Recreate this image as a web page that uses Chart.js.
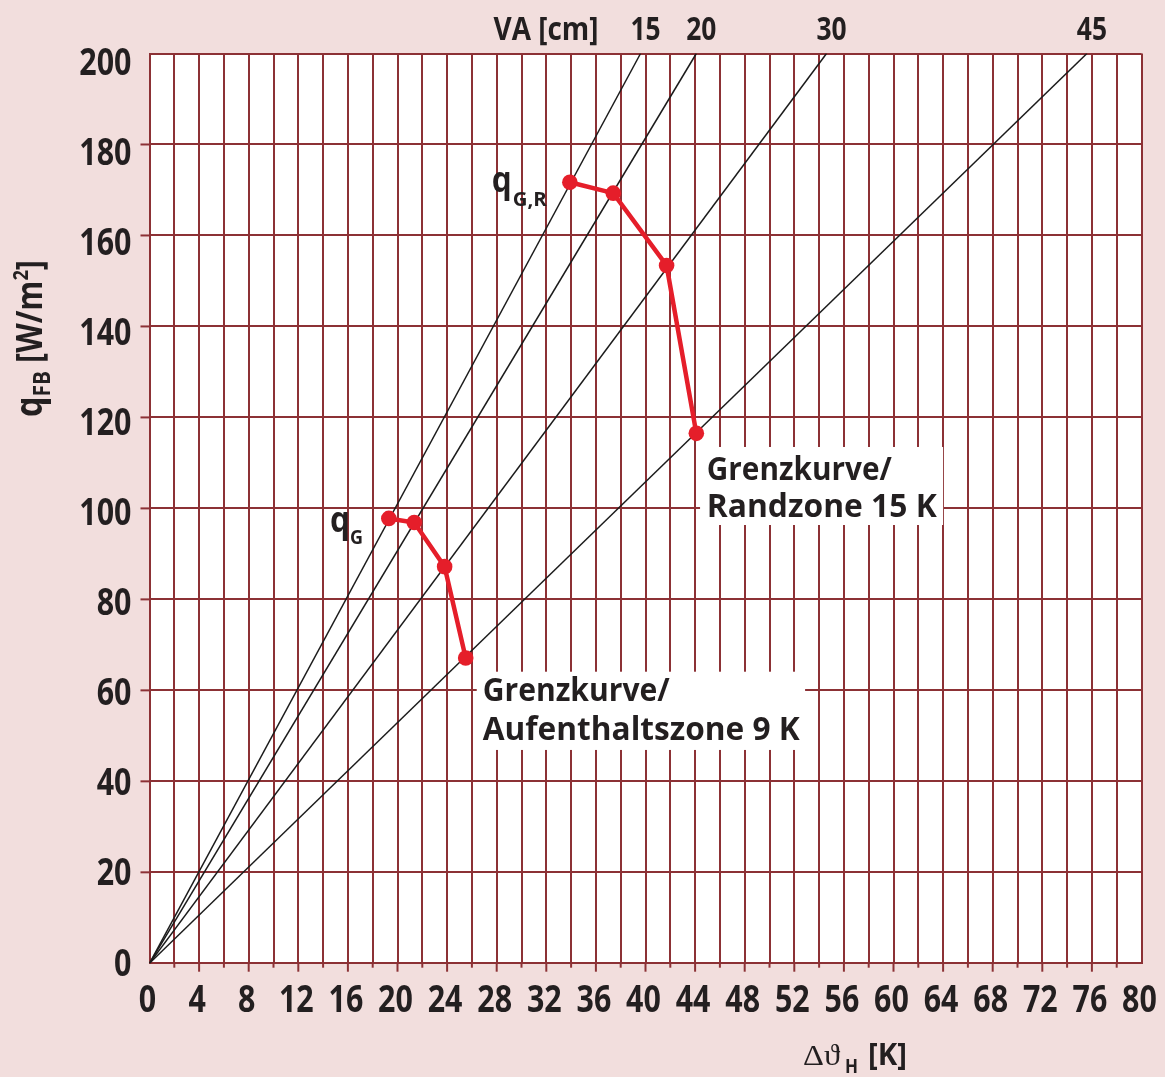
<!DOCTYPE html>
<html>
<head>
<meta charset="utf-8">
<script src="https://cdn.jsdelivr.net/npm/chart.js@4.4.1/dist/chart.umd.min.js"></script>
<style>
  html, body { margin:0; padding:0; background:#F2DEDD; }
  canvas { display:block; }
</style>
</head>
<body>
<canvas id="c" width="1165" height="1077"></canvas>
<script>
// ---------- data ----------
const xTickLabels = ['0','4','8','12','16','20','24','28','32','36','40','44','48','52','56','60','64','68','72','76','80'];
const yTickLabels = ['0','20','40','60','80','100','120','140','160','180','200'];
// VA lines (cm) run from origin to the top edge (q = 200) at these Δϑ values
const vaLabels = ['15','20','30','45'];
const vaTopX   = [39.6, 44.1, 54.6, 75.6];
const vaTopY   = [200, 200, 200, 200];
// q_G,R (Grenzkurve Randzone 15 K)
const qGR_x = [33.9, 37.4, 41.7, 44.1];
const qGR_y = [171.7, 169.3, 153.4, 116.5];
// q_G (Grenzkurve Aufenthaltszone 9 K)
const qG_x = [19.3, 21.35, 23.8, 25.5];
const qG_y = [97.8, 96.9, 87.2, 67.1];

// ---------- styles ----------
const GRID = '#8C3135';
const RED = '#E51E2A';
const TXT = '#231F20';
const HUM = "'Open Sans', 'Noto Sans', sans-serif";
const SERIF = "'Liberation Serif', 'DejaVu Serif', serif";
const COND = 0.8; // horizontal compression for the condensed-looking numerals

function pts(xs, ys){ return xs.map((x,i)=>({x, y:ys[i]})); }

// draw a run of text parts [{t, font, dy}] starting at (x,y) baseline, scaled to width w (optional)
function drawRun(ctx, parts, x, y, w){
  let total = 0;
  parts.forEach(p=>{ ctx.font = p.font; p.w = ctx.measureText(p.t).width; total += p.w; });
  const s = w ? w/total : 1;
  ctx.save();
  ctx.translate(x, y);
  ctx.scale(s, 1);
  let cx = 0;
  parts.forEach(p=>{ ctx.font = p.font; ctx.fillText(p.t, cx, p.dy||0); cx += p.w; });
  ctx.restore();
}
// condensed text with alignment: align 'left' | 'center' | 'right'
function drawCond(ctx, text, x, y, font, align){
  ctx.font = font;
  const w = ctx.measureText(text).width * COND;
  let lx = x;
  if (align === 'center') lx = x - w/2;
  else if (align === 'right') lx = x - w;
  ctx.save();
  ctx.textAlign = 'left';
  ctx.translate(lx, y);
  ctx.scale(COND, 1);
  ctx.fillText(text, 0, 0);
  ctx.restore();
}

const bgPlugin = {
  id:'bg',
  beforeDraw(chart){
    const {ctx, chartArea:a} = chart;
    ctx.save();
    ctx.fillStyle = '#F2DEDD';
    ctx.fillRect(0,0,chart.width,chart.height);
    ctx.fillStyle = '#FFFFFF';
    ctx.fillRect(a.left, a.top, a.right-a.left, a.bottom-a.top);
    ctx.restore();
  }
};

const decoPlugin = {
  id:'deco',
  afterDraw(chart){
    const {ctx, chartArea:a, scales:{x:xs, y:ys}} = chart;
    ctx.save();
    // tick marks
    ctx.strokeStyle = GRID; ctx.lineWidth = 2;
    xs.ticks.forEach(t=>{
      const v = t.value; if (v===0 || v===80) return;
      const px = xs.getPixelForValue(v);
      const len = xTickLabels.includes(String(v)) ? 8.4 : 4.4;
      ctx.beginPath(); ctx.moveTo(px, a.bottom); ctx.lineTo(px, a.bottom+len); ctx.stroke();
    });
    ys.ticks.forEach(t=>{
      const v = t.value; if (v===0 || v===200) return;
      const py = ys.getPixelForValue(v);
      ctx.beginPath(); ctx.moveTo(a.left-9, py); ctx.lineTo(a.left, py); ctx.stroke();
    });

    ctx.fillStyle = TXT;
    ctx.textBaseline = 'alphabetic';
    ctx.textAlign = 'left';

    // tick labels (values from the library's scales)
    const tickFont = `bold 38px ${HUM}`;
    ys.ticks.forEach(t=>{
      const s = String(t.value); if (!yTickLabels.includes(s)) return;
      const py = ys.getPixelForValue(t.value) + (-1.5 + 9*(t.value/200));
      drawCond(ctx, s, a.left - 18, py + 13.7, tickFont, 'right');
    });
    xs.ticks.forEach(t=>{
      const s = String(t.value); if (!xTickLabels.includes(s)) return;
      drawCond(ctx, s, xs.getPixelForValue(t.value) - 2, a.bottom + 48.4, tickFont, 'center');
    });

    // annotation boxes
    const box = (x0,y0,x1,y1)=>{
      const l = xs.getPixelForValue(x0), t = ys.getPixelForValue(y0);
      const r = xs.getPixelForValue(x1), b = ys.getPixelForValue(y1);
      ctx.fillStyle = '#FFFFFF'; ctx.fillRect(l,t,r-l,b-t); ctx.fillStyle = TXT;
      return {l,t};
    };
    const b1 = box(44.4, 113.5, 64.0, 96.35);
    drawRun(ctx, [{t:'Grenzkurve/', font:`bold 33px ${HUM}`}], b1.l+6.7, b1.t+33, 185);
    drawRun(ctx, [{t:'Randzone 15 K', font:`bold 33px ${HUM}`}], b1.l+6.7, b1.t+70.3, 230);
    const b2 = box(26.39, 64.1, 52.87, 46.9);
    drawRun(ctx, [{t:'Grenzkurve/', font:`bold 33px ${HUM}`}], b2.l+6, b2.t+29.5, 187);
    drawRun(ctx, [{t:'Aufenthaltszone 9 K', font:`bold 33px ${HUM}`}], b2.l+6, b2.t+68.3, 317);

    // q labels
    let px = xs.getPixelForValue(27.6), py = ys.getPixelForValue(169.6);
    drawRun(ctx, [{t:'q', font:`bold 36px ${HUM}`}], px, py, 20);
    drawRun(ctx, [{t:'G,R', font:`bold 20px ${HUM}`}], px+21, py+14, 34);
    px = xs.getPixelForValue(14.56); py = ys.getPixelForValue(94.8);
    drawRun(ctx, [{t:'q', font:`bold 36px ${HUM}`}], px, py, 20);
    drawRun(ctx, [{t:'G', font:`bold 20px ${HUM}`}], px+20, py+12, 13);

    // VA labels at the top
    const vaFont = `bold 33px ${HUM}`;
    const topPx = ys.getPixelForValue(200);
    vaLabels.forEach((l,i)=>{
      drawCond(ctx, l, xs.getPixelForValue(vaTopX[i]) + 5, ys.getPixelForValue(vaTopY[i]) - 13.5, vaFont, 'center');
    });
    drawRun(ctx, [{t:'VA [cm]', font:vaFont}], xs.getPixelForValue(vaTopX[0]) - 147, topPx - 13.5, 105);

    // x axis title
    drawRun(ctx, [{t:'\u0394\u03D1', font:`30px ${SERIF}`}], 803, 1065, 37);
    drawRun(ctx, [{t:'H', font:`bold 20px ${HUM}`}], 845, 1073, 13);
    drawRun(ctx, [{t:'[K]', font:`bold 30px ${HUM}`}], 868, 1065, 39);

    // y axis title (rotated)
    ctx.save();
    ctx.translate(42, 417);
    ctx.rotate(-Math.PI/2);
    drawRun(ctx, [
      {t:'q', font:`bold 37px ${HUM}`},
      {t:'FB', font:`bold 24px ${HUM}`, dy:8},
      {t:' [W/m', font:`bold 35px ${HUM}`},
      {t:'2', font:`bold 21px ${HUM}`, dy:-14},
      {t:']', font:`bold 35px ${HUM}`}
    ], 0, 0, 157);
    ctx.restore();

    ctx.restore();
  }
};

function build(){
  const datasets = vaTopX.map((x,i)=>({
    label:'VA '+vaLabels[i],
    data:[{x:0,y:0},{x:x,y:vaTopY[i]}],
    showLine:true, borderColor:'#1B1B1B', borderWidth:1.5,
    pointRadius:0, fill:false, order:2
  }));
  datasets.push({
    label:'qG,R', data:pts(qGR_x,qGR_y), showLine:true,
    borderColor:RED, backgroundColor:RED, borderWidth:4.5,
    pointRadius:7.8, pointBorderWidth:0, pointBackgroundColor:RED, order:1
  });
  datasets.push({
    label:'qG', data:pts(qG_x,qG_y), showLine:true,
    borderColor:RED, backgroundColor:RED, borderWidth:4.5,
    pointRadius:7.8, pointBorderWidth:0, pointBackgroundColor:RED, order:1
  });

  new Chart(document.getElementById('c'), {
    type:'scatter',
    data:{datasets},
    options:{
      responsive:false, animation:false, devicePixelRatio:1,
      layout:{padding:{left:0, top:53.5, right:23.5, bottom:0}},
      plugins:{legend:{display:false}, tooltip:{enabled:false}},
      scales:{
        x:{
          type:'linear', min:0, max:80,
          afterFit(s){ s.height = 113.7; },
          grid:{color:GRID, lineWidth:2, drawTicks:false},
          border:{color:GRID, width:2},
          ticks:{ stepSize:2, autoSkip:false, maxRotation:0, minRotation:0, display:false }
        },
        y:{
          type:'linear', min:0, max:200,
          afterFit(s){ s.width = 149.5; },
          grid:{color:GRID, lineWidth:2, drawTicks:false},
          border:{color:GRID, width:2},
          ticks:{ stepSize:20, autoSkip:false, display:false }
        }
      }
    },
    plugins:[bgPlugin, decoPlugin]
  });
}

const fontLoads = [
  `bold 38px ${HUM}`, `30px ${SERIF}`
].map(f=>document.fonts.load(f, 'qGA0123456789\u0394\u03D1').catch(()=>{}));
Promise.all(fontLoads).then(build, build);
</script>
</body>
</html>
